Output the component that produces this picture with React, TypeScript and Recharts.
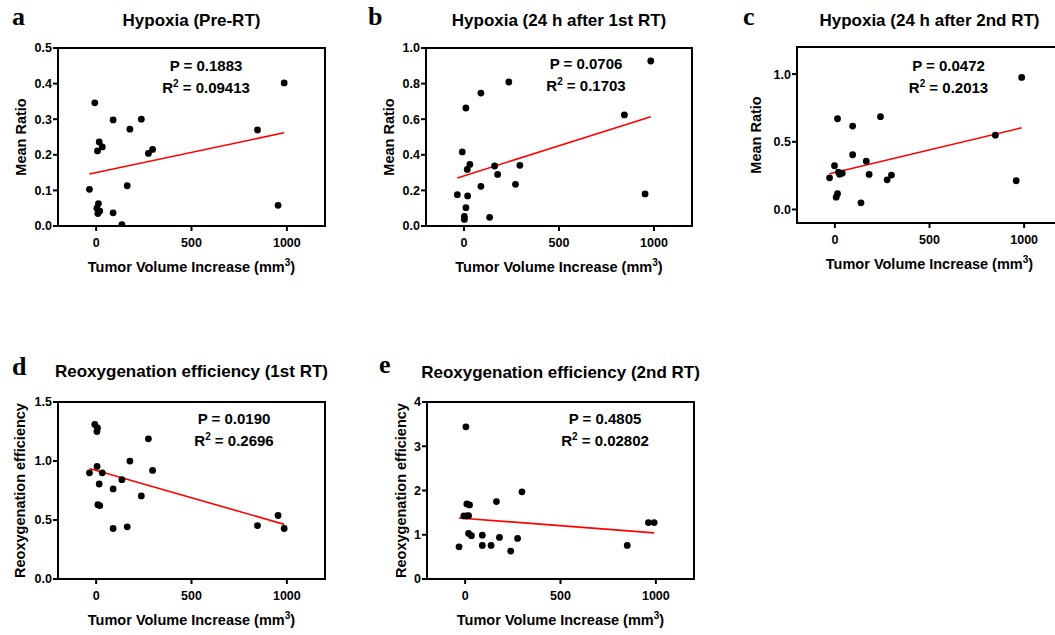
import React from "react";
import { ScatterChart, Scatter, XAxis, YAxis, ReferenceLine, ReferenceArea } from "recharts";

type Pt = [number, number];

// shared x axis (tumor volume increase, mm3)
const volumeTicks = [0, 500, 1000];

// a: Hypoxia (Pre-RT)
const hypoxiaPre: Pt[] = [
  [-35, 0.103], [-7, 0.346], [7, 0.211], [16, 0.236], [32, 0.222], [12, 0.063], [4, 0.05],
  [19, 0.042], [9, 0.035], [89, 0.298], [89, 0.037], [135, 0.004], [163, 0.113], [177, 0.272],
  [237, 0.3], [274, 0.204], [296, 0.215], [846, 0.27], [954, 0.058], [986, 0.402],
];
const hypoxiaPreFit: Pt[] = [[-35, 0.146], [986, 0.262]];

// b: Hypoxia (24 h after 1st RT)
const hypoxia1st: Pt[] = [
  [-35, 0.176], [-9, 0.416], [10, 0.663], [17, 0.318], [31, 0.346], [19, 0.169], [10, 0.103],
  [2, 0.054], [2, 0.037], [89, 0.747], [236, 0.809], [89, 0.223], [135, 0.049], [161, 0.337],
  [177, 0.29], [271, 0.234], [294, 0.341], [844, 0.624], [953, 0.18], [983, 0.927],
];
const hypoxia1stFit: Pt[] = [[-35, 0.27], [983, 0.614]];

// c: Hypoxia (24 h after 2nd RT)
const hypoxia2nd: Pt[] = [
  [-28, 0.234], [-2, 0.323], [14, 0.67], [19, 0.276], [25, 0.26], [39, 0.268], [7, 0.091],
  [14, 0.116], [94, 0.616], [94, 0.404], [138, 0.049], [166, 0.357], [181, 0.259], [241, 0.685],
  [276, 0.219], [299, 0.254], [848, 0.549], [958, 0.212], [987, 0.975],
];
const hypoxia2ndFit: Pt[] = [[-28, 0.264], [987, 0.603]];

// d: Reoxygenation efficiency (1st RT)
const reoxy1st: Pt[] = [
  [-35, 0.9], [-7, 1.31], [7, 1.28], [4, 1.25], [5, 0.954], [16, 0.805], [32, 0.9], [9, 0.63],
  [19, 0.622], [89, 0.763], [89, 0.428], [135, 0.842], [163, 0.442], [177, 0.999], [237, 0.704],
  [274, 1.188], [296, 0.92], [846, 0.453], [954, 0.538], [986, 0.428],
];
const reoxy1stFit: Pt[] = [[-35, 0.937], [986, 0.463]];

// e: Reoxygenation efficiency (2nd RT)
const reoxy2nd: Pt[] = [
  [-32, 0.728], [-7, 1.426], [4, 3.44], [9, 1.696], [23, 1.674], [9, 1.426], [18, 1.43],
  [18, 1.03], [33, 0.98], [90, 0.99], [90, 0.758], [136, 0.758], [164, 1.75], [180, 0.94],
  [239, 0.63], [275, 0.916], [298, 1.97], [850, 0.758], [961, 1.276], [991, 1.276],
];
const reoxy2ndFit: Pt[] = [[-32, 1.38], [991, 1.043]];

const SANS = "'Liberation Sans', Arial, sans-serif";
const SERIF = "'Liberation Serif', 'Times New Roman', serif";

const panels = [
  {
    letter: "a", letterX: 12, letterY: 25,
    title: "Hypoxia (Pre-RT)", titleY: 25.5,
    box: { x: 58, y: 48, w: 267, h: 178 },
    yDomain: [0, 0.5], yTicks: [0, 0.1, 0.2, 0.3, 0.4, 0.5], digits: 1,
    yLabel: "Mean Ratio", yLabelX: 25.5, xLabelY: 272,
    p: "P = 0.1883", r2: "0.09413", annX: 206, annY: 70.5,
    points: hypoxiaPre, fit: hypoxiaPreFit,
  },
  {
    letter: "b", letterX: 368, letterY: 25,
    title: "Hypoxia (24 h after 1st RT)", titleY: 25.5,
    box: { x: 426, y: 48, w: 266, h: 178 },
    yDomain: [0, 1], yTicks: [0, 0.2, 0.4, 0.6, 0.8, 1], digits: 1,
    yLabel: "Mean Ratio", yLabelX: 394, xLabelY: 272,
    p: "P = 0.0706", r2: "0.1703", annX: 586, annY: 68.5,
    points: hypoxia1st, fit: hypoxia1stFit,
  },
  {
    letter: "c", letterX: 743, letterY: 25,
    title: "Hypoxia (24 h after 2nd RT)", titleY: 25.5,
    box: { x: 797, y: 47, w: 265, h: 176 },
    yDomain: [-0.1, 1.2], yTicks: [0, 0.5, 1], digits: 1,
    yLabel: "Mean Ratio", yLabelX: 760.5, xLabelY: 269,
    p: "P = 0.0472", r2: "0.2013", annX: 948.5, annY: 71,
    points: hypoxia2nd, fit: hypoxia2ndFit,
  },
  {
    letter: "d", letterX: 12, letterY: 375,
    title: "Reoxygenation efficiency (1st RT)", titleY: 377,
    box: { x: 58, y: 402, w: 267, h: 177 },
    yDomain: [0, 1.5], yTicks: [0, 0.5, 1, 1.5], digits: 1,
    yLabel: "Reoxygenation efficiency", yLabelX: 24.5, xLabelY: 625,
    p: "P = 0.0190", r2: "0.2696", annX: 234, annY: 424,
    points: reoxy1st, fit: reoxy1stFit,
  },
  {
    letter: "e", letterX: 379, letterY: 373,
    title: "Reoxygenation efficiency (2nd RT)", titleY: 377.5,
    box: { x: 427, y: 402, w: 267, h: 177 },
    yDomain: [0, 4], yTicks: [0, 1, 2, 3, 4], digits: 0,
    yLabel: "Reoxygenation efficiency", yLabelX: 406, xLabelY: 625,
    p: "P = 0.4805", r2: "0.02802", annX: 605, annY: 424,
    points: reoxy2nd, fit: reoxy2ndFit,
  },
];

const xDomain = [-200, 1200];

const Dot = (props: any) => <circle cx={props.cx} cy={props.cy} r={3.4} fill="#000" />;

const tickStyle = { fill: "#000", fontSize: 12.5, fontWeight: "bold", fontFamily: SANS };

function Panel({ cfg }: { cfg: any }) {
  const { box, yDomain, yTicks, digits, points, fit } = cfg;
  const padL = 50, padT = 10, padR = 10, padB = 30;
  const data = points.map(([x, y]: Pt) => ({ x, y }));
  return (
    <div style={{ position: "absolute", left: box.x - padL, top: box.y - padT }}>
      <ScatterChart
        width={box.w + padL + padR}
        height={box.h + padT + padB}
        margin={{ top: padT, right: padR, bottom: 0, left: 0 }}
      >
        <XAxis
          type="number" dataKey="x" domain={xDomain} ticks={volumeTicks} allowDataOverflow
          height={padB} tickSize={5} tickMargin={7} stroke="#000" strokeWidth={2}
          tick={tickStyle} interval={0}
        />
        <YAxis
          type="number" dataKey="y" domain={yDomain} ticks={yTicks} allowDataOverflow
          width={padL} tickSize={5} tickMargin={1} stroke="#000" strokeWidth={2}
          tick={tickStyle} interval={0}
          tickFormatter={(v: number) => v.toFixed(digits)}
        />
        <ReferenceArea
          x1={xDomain[0]} x2={xDomain[1]} y1={yDomain[0]} y2={yDomain[1]}
          fill="none" stroke="#000" strokeWidth={2} fillOpacity={0}
        />
        <ReferenceLine
          segment={[{ x: fit[0][0], y: fit[0][1] }, { x: fit[1][0], y: fit[1][1] }]}
          stroke="#ff0000" strokeWidth={1.6}
        />
        <Scatter data={data} isAnimationActive={false} shape={Dot} />
      </ScatterChart>
    </div>
  );
}

function Labels({ cfg }: { cfg: any }) {
  const { box } = cfg;
  const cx = box.x + box.w / 2;
  const cy = box.y + box.h / 2;
  return (
    <g fontFamily={SANS} fontWeight="bold" fill="#000">
      <text x={cfg.letterX} y={cfg.letterY} fontFamily={SERIF} fontSize={26}>{cfg.letter}</text>
      <text x={cx} y={cfg.titleY} fontSize={17} textAnchor="middle">{cfg.title}</text>
      <text x={cfg.annX} y={cfg.annY} fontSize={15} textAnchor="middle">{cfg.p}</text>
      <text x={cfg.annX} y={cfg.annY + 22} fontSize={15} textAnchor="middle">
        R<tspan fontSize={10} dy={-6}>2</tspan><tspan dy={6}>{" = " + cfg.r2}</tspan>
      </text>
      <text x={cx} y={cfg.xLabelY} fontSize={14.5} textAnchor="middle">
        Tumor Volume Increase (mm<tspan fontSize={10} dy={-6}>3</tspan><tspan dy={6}>)</tspan>
      </text>
      <text
        x={cfg.yLabelX} y={cy} fontSize={14.5} textAnchor="middle"
        transform={`rotate(-90 ${cfg.yLabelX} ${cy})`}
      >
        {cfg.yLabel}
      </text>
    </g>
  );
}

export default function App() {
  return (
    <div
      style={{
        position: "absolute", left: 0, top: 0, width: 1055, height: 635,
        overflow: "hidden", background: "#fff",
      }}
    >
      {panels.map((p) => <Panel key={p.letter} cfg={p} />)}
      <svg
        width={1055} height={635}
        style={{ position: "absolute", left: 0, top: 0, pointerEvents: "none" }}
      >
        {panels.map((p) => <Labels key={p.letter} cfg={p} />)}
      </svg>
    </div>
  );
}
